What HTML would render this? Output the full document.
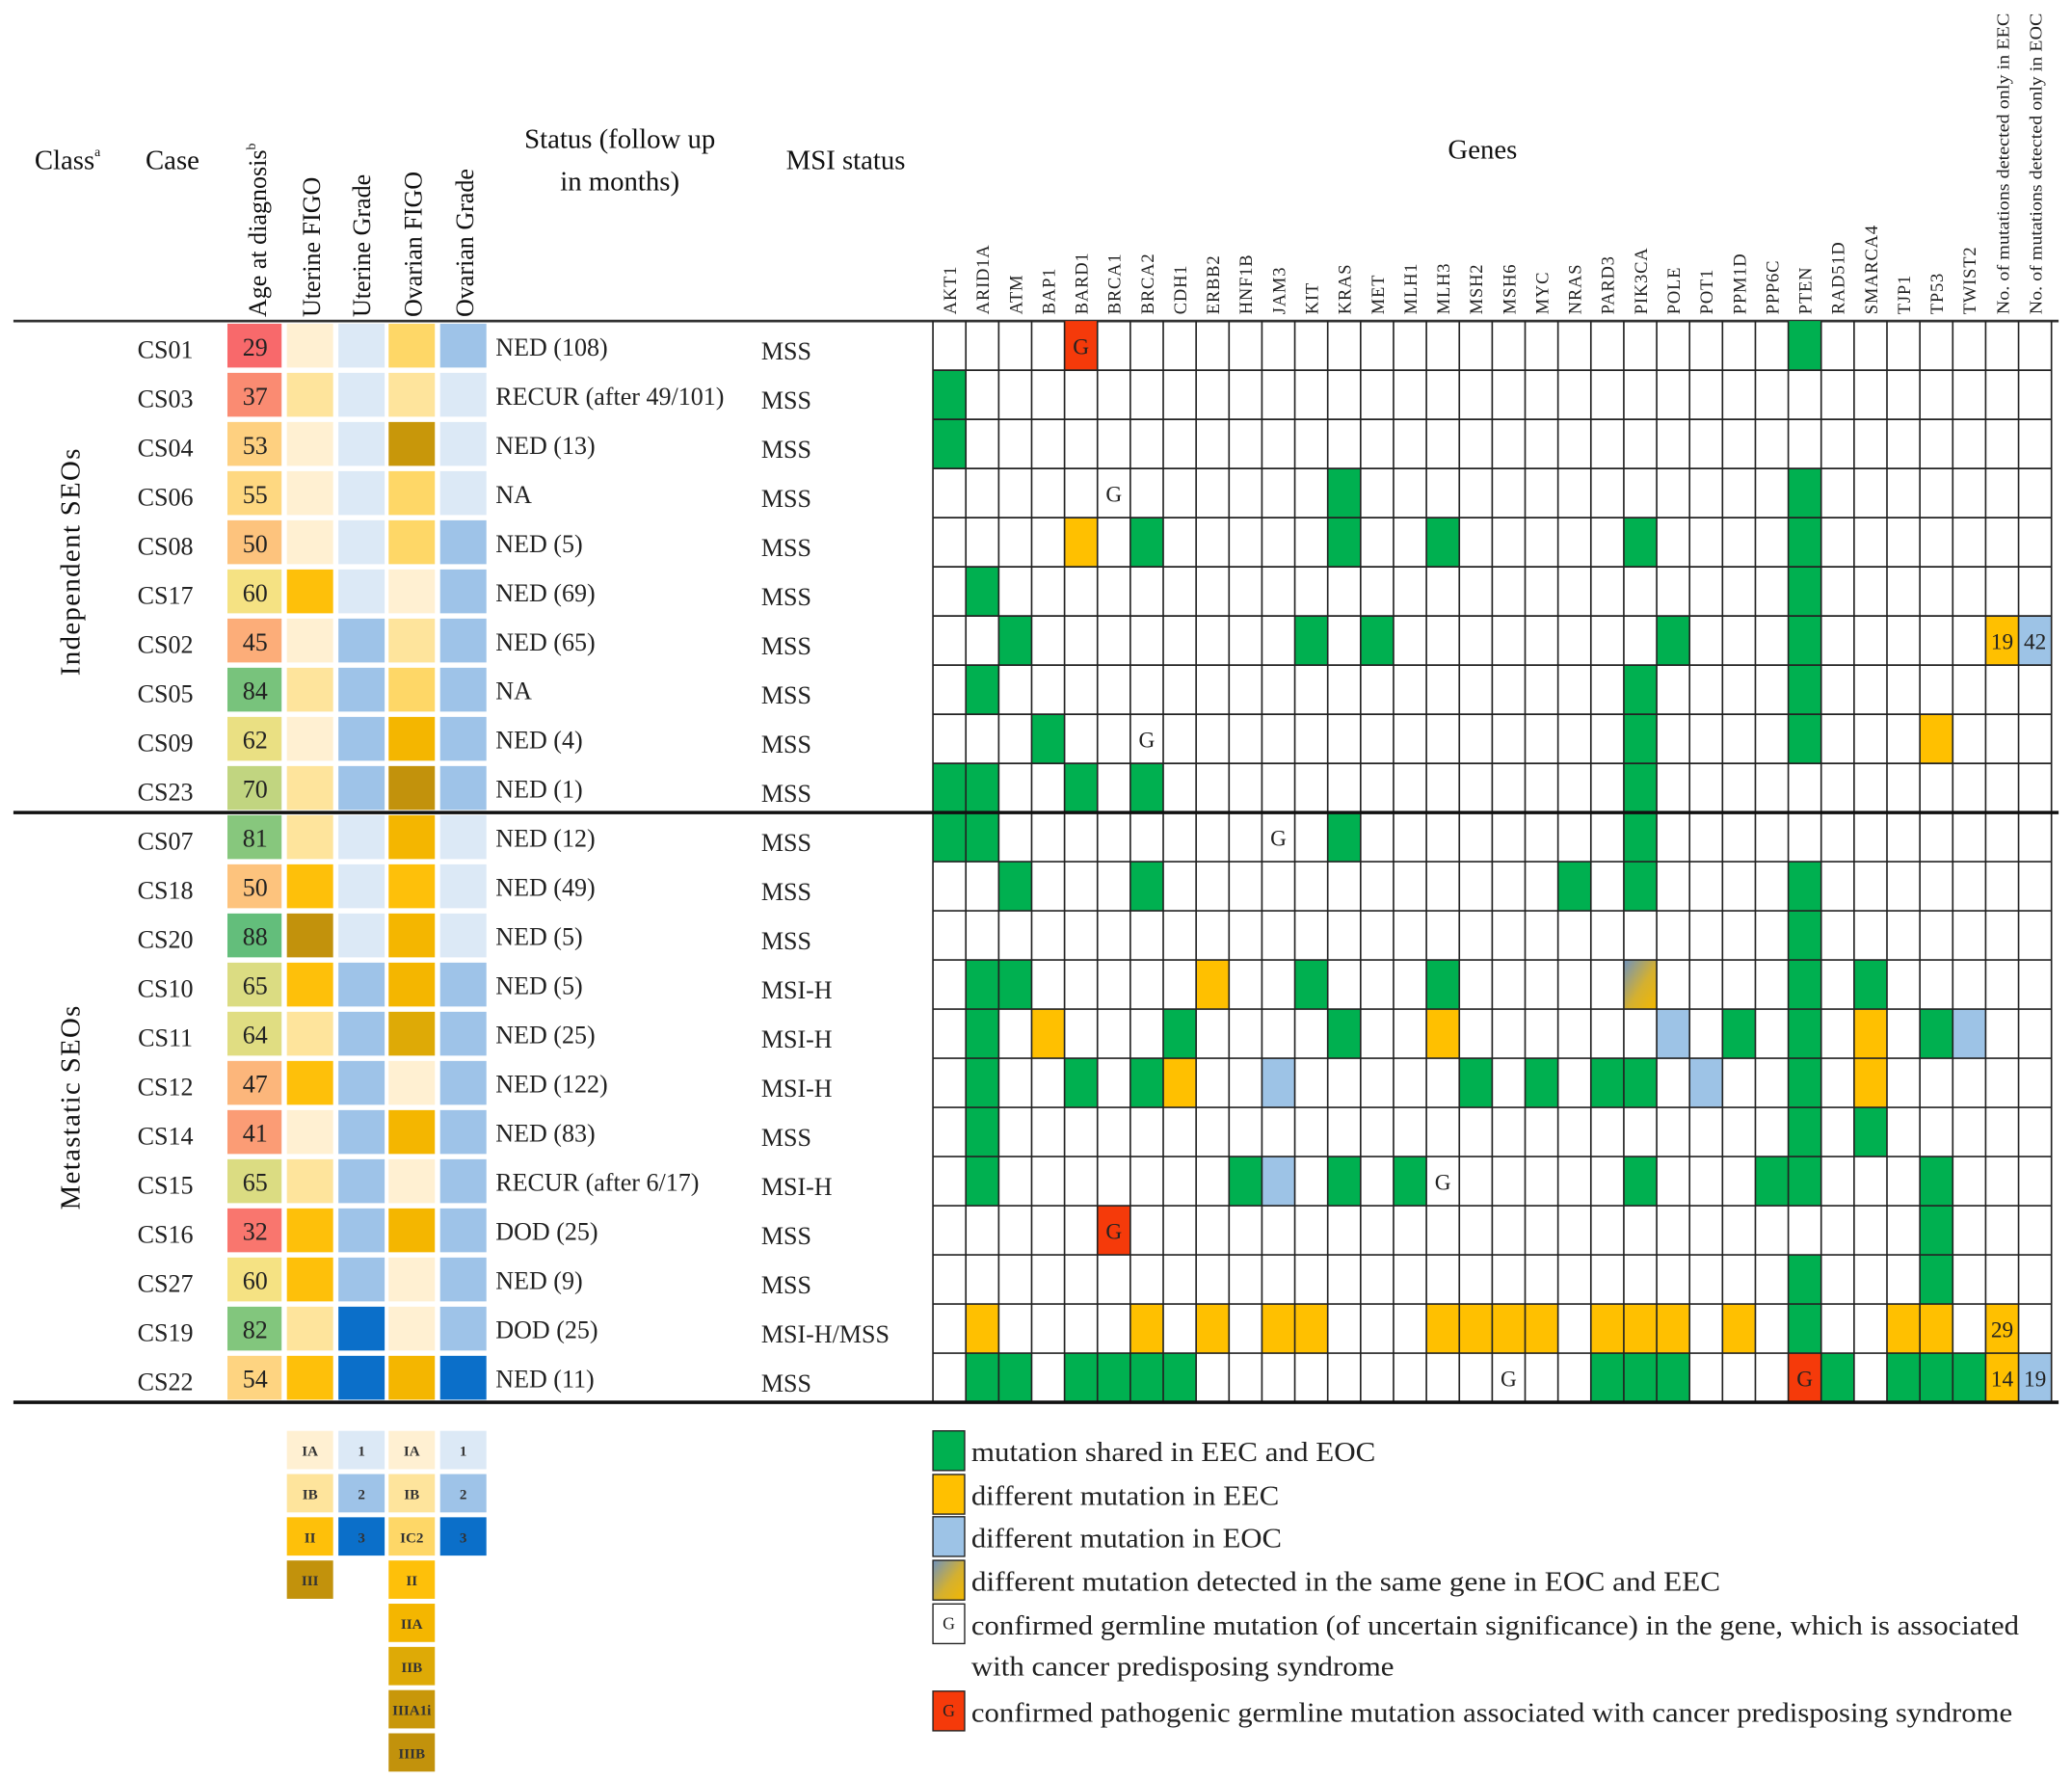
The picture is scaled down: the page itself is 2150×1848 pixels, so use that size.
<!DOCTYPE html>
<html><head><meta charset="utf-8"><style>
html,body{margin:0;padding:0;background:#fff;}
svg{display:block;font-family:"Liberation Serif",serif;}
</style></head><body>
<svg id="fig" width="2150" height="1848" viewBox="0 0 1568 1348" xmlns="http://www.w3.org/2000/svg">
<defs>
<linearGradient id="mixgrad" x1="0" y1="0" x2="1" y2="1">
<stop offset="0" stop-color="#6f93bf"/><stop offset="0.55" stop-color="#d4b030"/><stop offset="1" stop-color="#f3b800"/>
</linearGradient>
</defs>
<g id="hdr" fill="#111">
<text x="26" y="128" font-size="21">Class<tspan font-size="10" dy="-10">a</tspan></text>
<text x="110" y="128" font-size="21">Case</text>
<text transform="translate(201,240) rotate(-90)" font-size="19">Age at diagnosis<tspan font-size="10" dy="-8">b</tspan></text>
<text transform="translate(242,240) rotate(-90)" font-size="19">Uterine FIGO</text>
<text transform="translate(280,240) rotate(-90)" font-size="19">Uterine Grade</text>
<text transform="translate(319,240) rotate(-90)" font-size="19">Ovarian FIGO</text>
<text transform="translate(358,240) rotate(-90)" font-size="19">Ovarian Grade</text>
<text x="469" y="112" font-size="21" text-anchor="middle">Status (follow up</text>
<text x="469" y="144" font-size="21" text-anchor="middle">in months)</text>
<text x="640" y="128" font-size="21" text-anchor="middle">MSI status</text>
<text x="1122" y="120" font-size="21" text-anchor="middle">Genes</text>
<text transform="translate(60,425) rotate(-90)" font-size="21" text-anchor="middle" letter-spacing="1">Independent SEOs</text>
<text transform="translate(60,838) rotate(-90)" font-size="21" text-anchor="middle" letter-spacing="1">Metastatic SEOs</text>
</g>
<g id="body"></g>
<g id="legend"></g>
</svg>
<script>
const NS="http://www.w3.org/2000/svg";
const genes=["AKT1","ARID1A","ATM","BAP1","BARD1","BRCA1","BRCA2","CDH1","ERBB2","HNF1B","JAM3","KIT","KRAS","MET","MLH1","MLH3","MSH2","MSH6","MYC","NRAS","PARD3","PIK3CA","POLE","POT1","PPM1D","PPP6C","PTEN","RAD51D","SMARCA4","TJP1","TP53","TWIST2"];
const countHeaders=["No. of mutations detected only in EEC","No. of mutations detected only in EOC"];
const cases=["CS01","CS03","CS04","CS06","CS08","CS17","CS02","CS05","CS09","CS23","CS07","CS18","CS20","CS10","CS11","CS12","CS14","CS15","CS16","CS27","CS19","CS22"];
const ages=[29,37,53,55,50,60,45,84,62,70,81,50,88,65,64,47,41,65,32,60,82,54];
const uterineFigo=["IA","IB","IA","IA","IA","II","IA","IB","IA","IB","IB","II","III","II","IB","II","IA","IB","II","II","IB","II"];
const uterineGrade=[1,1,1,1,1,1,2,2,2,2,1,1,1,2,2,2,2,2,2,2,3,3];
const ovarianFigo=["IC2","IB","IIIA1i","IC2","IC2","IA","IB","IC2","IIA","IIIB","IIA","II","IIA","IIA","IIB","IA","IIA","IA","IIA","IA","IA","IIA"];
const ovarianGrade=[2,1,1,1,2,2,2,2,2,2,1,1,1,2,2,2,2,2,2,2,2,3];
const statuses=["NED (108)","RECUR (after 49/101)","NED (13)","NA","NED (5)","NED (69)","NED (65)","NA","NED (4)","NED (1)","NED (12)","NED (49)","NED (5)","NED (5)","NED (25)","NED (122)","NED (83)","RECUR (after 6/17)","DOD (25)","NED (9)","DOD (25)","NED (11)"];
const msi=["MSS","MSS","MSS","MSS","MSS","MSS","MSS","MSS","MSS","MSS","MSS","MSS","MSS","MSI-H","MSI-H","MSI-H","MSS","MSI-H","MSS","MSS","MSI-H/MSS","MSS"];
// mutation entries: "geneIndex+type" g=shared y=EEC b=EOC x=both-different G=germline R=pathogenic germline
const mutations=[
"4R 26g","0g","0g","5G 12g 26g","4y 6g 12g 15g 21g 26g","1g 26g","2g 11g 13g 22g 26g","1g 21g 26g","3g 6G 21g 26g 30y","0g 1g 4g 6g 21g",
"0g 1g 10G 12g 21g","2g 6g 19g 21g 26g","26g","1g 2g 8y 11g 15g 21x 26g 28g","1g 3y 7g 12g 15y 22b 24g 26g 28y 30g 31b","1g 4g 6g 7y 10b 16g 18g 20g 21g 23b 26g 28y",
"1g 26g 28g","1g 9g 10b 12g 14g 15G 21g 25g 26g 30g","5R 30g","26g 30g","1y 6y 8y 10y 11y 15y 16y 17y 18y 20y 21y 22y 24y 26g 29y 30y","1g 2g 4g 5g 6g 7g 17G 20g 21g 22g 26R 27g 29g 30g 31g"];
const eecCounts=[null,null,null,null,null,null,19,null,null,null,null,null,null,null,null,null,null,null,null,null,29,14];
const eocCounts=[null,null,null,null,null,null,42,null,null,null,null,null,null,null,null,null,null,null,null,null,null,19];
const uFigoLegend=["IA","IB","II","III"];
const oFigoLegend=["IA","IB","IC2","II","IIA","IIB","IIIA1i","IIIB"];
const gradeLegend=[1,2,3];
const legendItems=["mutation shared in EEC and EOC","different mutation in EEC","different mutation in EOC","different mutation detected in the same gene in EOC and EEC","confirmed germline mutation (of uncertain significance) in the gene, which is associated","confirmed pathogenic germline mutation associated with cancer predisposing syndrome"];

const figoColor={"IA":"#fff0d2","IB":"#fee49c","IC2":"#fed767","II":"#fec00a","IIA":"#f4b600","IIB":"#deaa06","IIIA1i":"#c8970a","IIIB":"#c2920c","III":"#c2920c"};
const gradeColor={1:"#dce9f6",2:"#9ec3e8",3:"#0b6fc9"};
const mutColor={g:"#00b050",y:"#ffc000",b:"#9dc3e6",x:"url(#mixgrad)",G:"#ffffff",R:"#f53a0a"};

const X0=706, CW=24.9, Y0=243, RH=37.2;
const NCOL=genes.length+2;
function colX(i){return X0+i*CW;}
function rowY(r){return Y0+r*RH;}
function lerp(a,b,t){return Math.round(a+(b-a)*t);}
function hex(c){return [parseInt(c.slice(1,3),16),parseInt(c.slice(3,5),16),parseInt(c.slice(5,7),16)];}
function mix(c1,c2,t){const a=hex(c1),b=hex(c2);return "rgb("+lerp(a[0],b[0],t)+","+lerp(a[1],b[1],t)+","+lerp(a[2],b[2],t)+")";}
function ageColor(v){const mn=29,mid=58,mx=88;if(v<=mid)return mix("#f8696b","#ffe584",(v-mn)/(mid-mn));return mix("#ffe584","#63be7b",(v-mid)/(mx-mid));}
function mk(tag,attrs,parent){const e=document.createElementNS(NS,tag);for(const k in attrs)e.setAttribute(k,attrs[k]);parent.appendChild(e);return e;}
const body=document.getElementById("body");
const leg=document.getElementById("legend");

let ln=mk("line",{x1:10,x2:1558,y1:Y0,y2:Y0,stroke:"#333","stroke-width":2},body);



genes.forEach((g,i)=>{
  const t=mk("text",{transform:`translate(${colX(i)+CW/2+5},238) rotate(-90)`,"font-size":13.5,fill:"#222","letter-spacing":0.6},body);
  t.textContent=g;
  
  
});
countHeaders.forEach((h,k)=>{
  const t=mk("text",{transform:`translate(${colX(genes.length+k)+CW/2+5},238) rotate(-90)`,"font-size":13,fill:"#222",textLength:228,lengthAdjust:"spacingAndGlyphs"},body);
  t.textContent=h;
  
  
});

const leftCols=[[172,41],[217,35],[256,35],[294,35],[333,35]];
cases.forEach((c,r)=>{
  const y=rowY(r);
  const ct=mk("text",{x:125,y:y+28,"font-size":19,"text-anchor":"middle",fill:"#222"},body);
  ct.textContent=c;
  
  
  const fills=[ageColor(ages[r]),figoColor[uterineFigo[r]],gradeColor[uterineGrade[r]],figoColor[ovarianFigo[r]],gradeColor[ovarianGrade[r]]];
  const names=['age-cell','uterine-figo-cell','uterine-grade-cell','ovarian-figo-cell','ovarian-grade-cell'];
  leftCols.forEach((lc,k)=>{
    const rc=mk("rect",{x:lc[0],y:y+2,width:lc[1],height:RH-4,fill:fills[k]},body);
    
    
  });
  const at=mk("text",{x:193,y:y+26,"font-size":19,"text-anchor":"middle",fill:"#222"},body);
  at.textContent=ages[r];
  
  
  const st=mk("text",{x:375,y:y+26,"font-size":19,fill:"#222"},body);
  st.textContent=statuses[r];
  
  
  const mt=mk("text",{x:576,y:y+29,"font-size":19,fill:"#222"},body);
  mt.textContent=msi[r];
  
  
  mutations[r].split(" ").forEach(tok=>{
    const gi=parseInt(tok,10), ty=tok.replace(/[0-9]/g,"");
    const cell=mk("rect",{x:colX(gi),y:y,width:CW,height:RH,fill:mutColor[ty]},body);
    
    
    if(ty==="G"||ty==="R"){
      const gt=mk("text",{x:colX(gi)+CW/2,y:y+25,"font-size":17,"text-anchor":"middle",fill:"#222"},body);
      gt.textContent="G";
      
      
    }
  });
  [[eecCounts,"#ffc000",genes.length,'eec-count'],[eocCounts,"#9dc3e6",genes.length+1,'eoc-count']].forEach(d=>{
    const v=d[0][r]; if(v===null)return;
    const rc=mk("rect",{x:colX(d[2]),y:y,width:CW,height:RH,fill:d[1]},body);
    
    
    const tt=mk("text",{x:colX(d[2])+CW/2,y:y+25,"font-size":17,"text-anchor":"middle",fill:"#222"},body);
    tt.textContent=v;
    
    
  });
});
for(let i=0;i<=NCOL;i++){
  const l=mk("line",{x1:colX(i),x2:colX(i),y1:Y0,y2:rowY(cases.length),stroke:"#222","stroke-width":1.2},body);
  
  
}
for(let r=1;r<cases.length;r++){
  const l=mk("line",{x1:X0,x2:colX(NCOL),y1:rowY(r),y2:rowY(r),stroke:"#222","stroke-width":1.2},body);
  
  
}
let sep=mk("line",{x1:10,x2:1558,y1:rowY(10),y2:rowY(10),stroke:"#111","stroke-width":2.6},body);


let bot=mk("line",{x1:10,x2:1558,y1:rowY(cases.length),y2:rowY(cases.length),stroke:"#111","stroke-width":2.6},body);



const LY=1083, LS=32.7;
function legCell(x,j,fill,label,nm){
  const r=mk("rect",{x:x,y:LY+j*LS,width:35,height:29,fill:fill},leg);
  
  
  const t=mk("text",{x:x+17.5,y:LY+j*LS+19,"font-size":11,"text-anchor":"middle",fill:"#333","font-weight":"bold"},leg);
  t.textContent=label;
  
  
}
uFigoLegend.forEach((s,j)=>legCell(217,j,figoColor[s],s,'uterine-figo-legend'));
gradeLegend.forEach((s,j)=>legCell(256,j,gradeColor[s],s,'uterine-grade-legend'));
oFigoLegend.forEach((s,j)=>legCell(294,j,figoColor[s],s,'ovarian-figo-legend'));
gradeLegend.forEach((s,j)=>legCell(333,j,gradeColor[s],s,'ovarian-grade-legend'));

const legFills=["#00b050","#ffc000","#9dc3e6","url(#mixgrad)","#ffffff","#f53a0a"];
const legY=[1083,1116,1148,1181,1214,1280];
const legLen=[306,233,235,567,793,788];
legendItems.forEach((s,k)=>{
  const r=mk("rect",{x:706,y:legY[k],width:24,height:30,fill:legFills[k],stroke:"#222","stroke-width":1},leg);
  
  
  if(k>=4){
    const g=mk("text",{x:718,y:legY[k]+19,"font-size":13,"text-anchor":"middle",fill:"#222"},leg);
    g.textContent="G";
    
    
  }
  const t=mk("text",{x:735,y:legY[k]+23,"font-size":21,fill:"#222",textLength:legLen[k],lengthAdjust:"spacingAndGlyphs"},leg);
  t.textContent=s;
  
  
});
const t2=mk("text",{x:735,y:1268,"font-size":21,fill:"#222",textLength:320,lengthAdjust:"spacingAndGlyphs"},leg);
t2.textContent="with cancer predisposing syndrome";


</script>
</body></html>
